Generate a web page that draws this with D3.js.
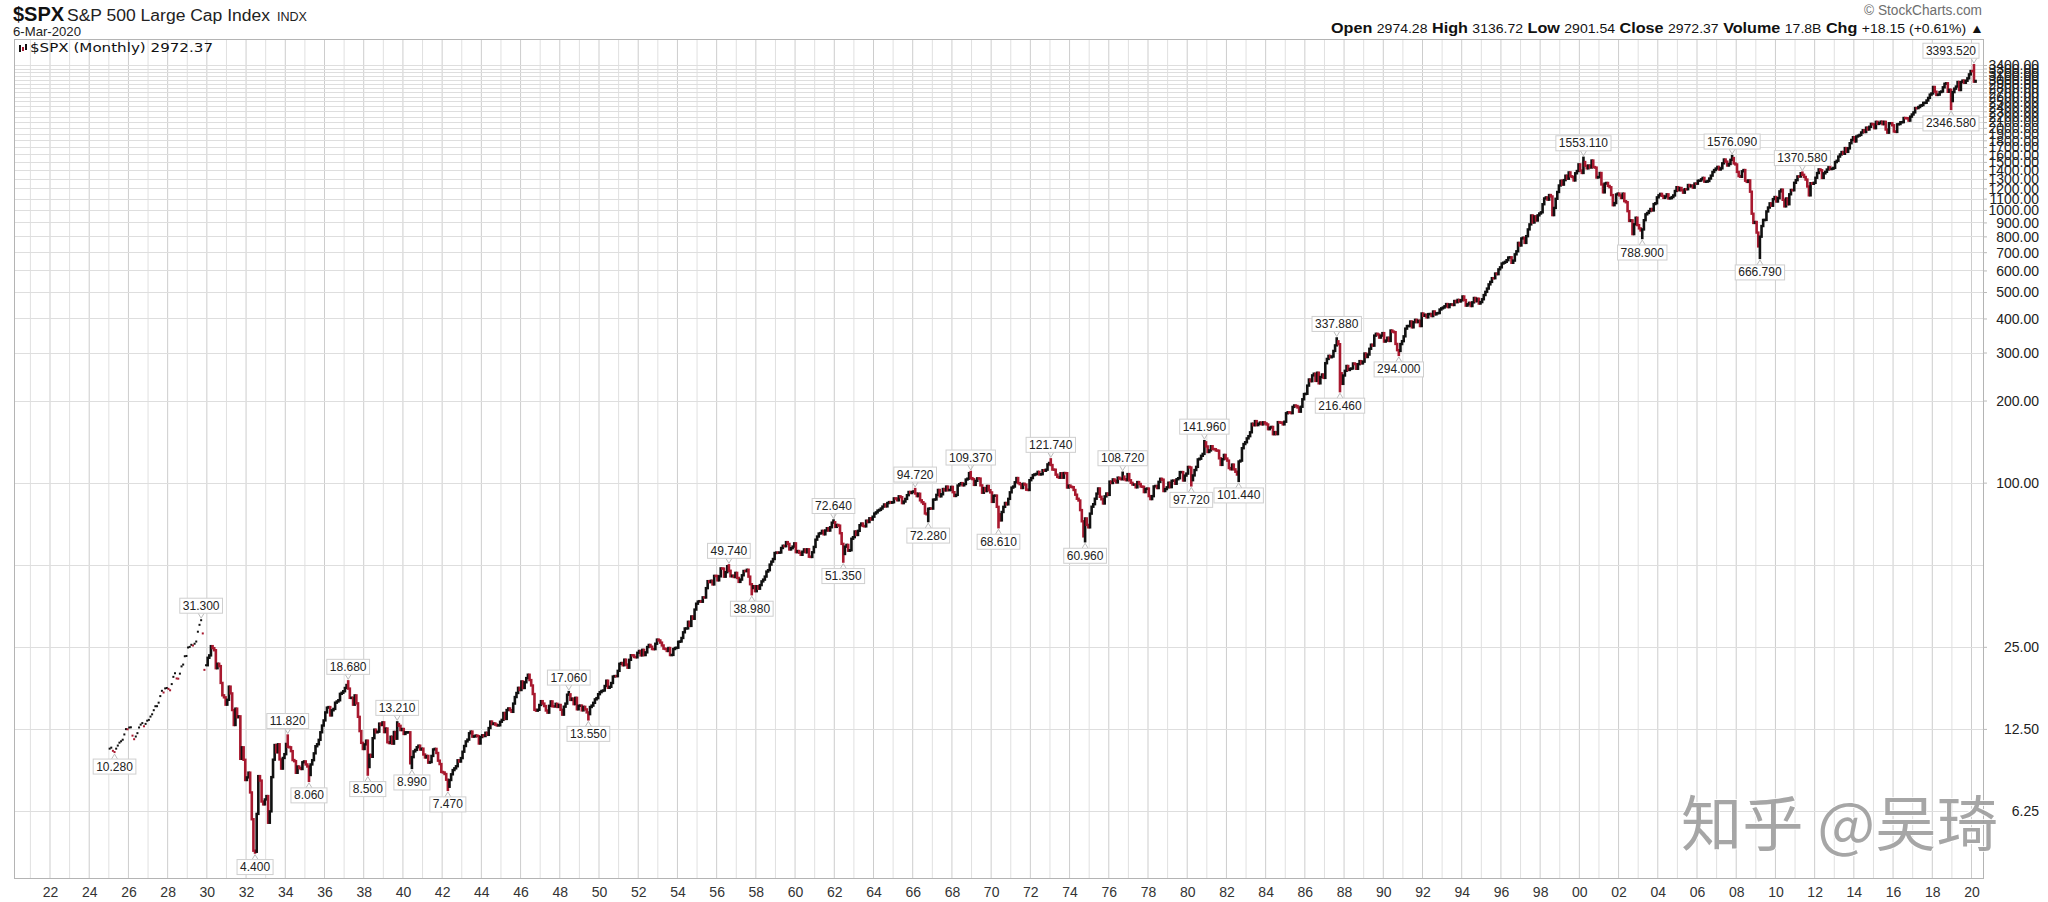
<!DOCTYPE html>
<html><head><meta charset="utf-8">
<script src="https://cdn.jsdelivr.net/npm/d3@7"></script>
<style>html,body{margin:0;padding:0;background:#fff;} svg{display:block;}</style>
</head><body>
<svg id="chart" width="2048" height="902"></svg>
<script>
// ---------------- DATA ----------------
const firstYear = 1925;          // first month: Jan 1925
const firstBarYear = 1930;       // months before are drawn as close-only dots
const monthlyClose = [
// 1925
10.58,10.67,10.39,10.28,10.58,10.86,11.13,11.26,11.41,11.93,12.48,12.46,
// 1926
12.65,12.67,11.81,11.46,11.72,12.06,12.65,12.96,13.13,12.78,13.04,13.40,
// 1927
13.49,13.87,14.14,14.64,15.14,15.14,15.60,16.49,17.24,17.00,17.60,17.66,
// 1928
17.53,17.32,18.25,19.40,20.00,19.14,19.10,19.93,21.19,21.52,23.09,23.14,
// 1929
24.86,24.99,25.43,25.28,25.66,26.14,28.40,30.10,31.30,27.99,20.58,21.40,
// 1930
22.79,23.26,25.14,24.72,24.29,20.87,21.67,21.24,18.43,16.60,16.32,15.34,
// 1931
15.98,17.86,16.87,14.66,12.92,14.83,13.80,13.90,9.71,10.70,9.63,8.12,
// 1932
8.30,8.64,7.31,5.83,4.47,4.43,6.10,8.39,8.08,6.77,6.61,6.89,
// 1933
7.09,5.66,6.23,8.32,9.64,10.91,10.26,10.98,9.66,8.94,9.78,10.10,
// 1934
11.01,10.74,10.70,10.36,9.61,9.52,8.63,9.10,8.99,8.91,9.43,9.50,
// 1935
9.26,9.10,8.47,9.26,9.60,10.17,10.80,10.98,11.40,12.15,12.86,13.43,
// 1936
14.37,14.96,15.03,14.01,14.63,14.80,15.60,15.76,15.92,16.81,16.96,17.18,
// 1937
17.66,18.11,17.57,16.25,16.26,15.34,16.59,15.51,13.84,12.27,11.11,10.55,
// 1938
10.97,11.32,9.06,10.04,9.88,11.56,12.42,12.15,12.21,13.07,12.92,13.21,
// 1939
12.17,12.54,11.17,11.09,11.70,11.04,12.18,11.51,13.02,12.83,12.38,12.49,
// 1940
11.98,12.15,12.15,12.15,9.35,9.85,10.34,10.47,10.71,10.85,10.50,10.58,
// 1941
10.07,9.82,9.95,9.40,9.45,9.95,10.51,10.56,10.20,9.56,9.29,8.69,
// 1942
8.65,8.54,8.14,7.67,8.12,8.52,8.83,8.96,9.12,9.59,9.49,9.77,
// 1943
10.31,10.82,11.25,11.42,12.05,12.22,11.71,11.74,11.82,11.76,11.05,11.67,
// 1944
11.85,11.77,12.10,11.89,12.59,13.30,13.03,13.09,12.96,12.87,12.89,13.28,
// 1945
13.49,14.30,13.60,14.66,14.86,14.65,14.44,15.48,16.36,16.93,17.68,17.36,
// 1946
18.66,17.66,18.53,19.20,19.75,18.88,18.04,16.78,14.69,14.58,14.69,15.30,
// 1947
15.80,15.48,15.16,14.60,14.34,15.19,15.77,15.13,15.11,15.45,15.05,15.30,
// 1948
14.69,14.10,15.08,15.48,16.69,16.74,15.97,16.14,15.41,16.25,14.75,15.20,
// 1949
15.22,14.62,15.06,14.74,14.37,14.16,15.04,15.22,15.58,16.04,16.21,16.76,
// 1950
17.05,17.22,17.29,17.96,18.78,17.69,17.84,18.42,19.45,19.53,19.51,20.41,
// 1951
21.66,21.80,21.40,22.43,21.52,20.96,22.40,23.28,23.26,22.94,22.88,23.77,
// 1952
24.14,23.26,24.37,23.32,23.86,24.96,25.40,25.03,24.54,24.52,25.66,26.57,
// 1953
26.38,25.90,25.29,24.62,24.54,24.14,24.75,23.32,23.35,24.54,24.76,24.81,
// 1954
26.08,26.15,26.94,28.26,29.19,29.21,30.88,29.83,32.31,31.68,34.24,35.98,
// 1955
36.63,36.76,36.58,37.96,37.91,41.03,43.52,43.18,43.67,42.34,45.51,45.48,
// 1956
43.82,45.34,48.48,48.38,45.20,46.97,49.39,47.51,45.35,45.58,45.08,46.67,
// 1957
44.72,43.26,44.11,45.74,47.43,47.37,47.91,45.22,42.42,41.06,41.72,39.99,
// 1958
41.70,40.84,42.10,43.44,44.09,45.24,47.19,47.75,50.06,51.33,52.48,55.21,
// 1959
55.42,55.41,55.44,57.59,58.68,58.47,60.51,59.60,56.88,57.52,58.28,59.89,
// 1960
55.61,56.12,55.34,54.37,55.83,56.92,55.51,56.96,53.52,53.39,55.54,58.11,
// 1961
61.78,63.44,65.06,65.31,66.56,64.64,66.76,68.07,66.73,68.62,71.32,71.55,
// 1962
68.84,69.96,69.55,65.24,59.63,54.75,58.23,59.12,56.27,56.52,62.26,63.10,
// 1963
66.20,64.29,66.57,69.80,70.80,69.37,69.13,72.50,71.70,74.01,73.23,75.02,
// 1964
77.04,77.80,78.98,79.46,80.37,81.69,83.18,81.83,84.18,84.86,84.42,84.75,
// 1965
87.56,87.43,86.16,89.11,88.42,84.12,85.25,87.17,89.96,92.42,91.61,92.43,
// 1966
92.88,91.22,89.23,91.06,86.13,84.74,83.60,77.10,76.56,80.20,80.45,80.33,
// 1967
86.61,86.78,90.20,94.01,89.08,90.64,94.75,93.64,96.71,93.90,94.00,96.47,
// 1968
92.24,89.36,90.20,97.59,98.68,99.58,97.74,98.86,102.67,103.41,108.37,103.86,
// 1969
103.01,98.13,101.51,103.69,103.46,97.71,91.83,95.51,93.12,97.24,93.81,92.06,
// 1970
85.02,89.50,89.63,81.52,76.55,72.72,78.05,81.52,84.21,83.25,87.20,92.15,
// 1971
95.88,96.75,100.31,103.95,99.63,98.70,95.58,99.03,98.34,94.23,93.99,102.09,
// 1972
103.94,106.57,107.20,107.67,109.53,107.14,107.39,111.09,110.55,111.58,116.67,118.05,
// 1973
116.03,111.68,111.52,106.97,104.95,104.26,108.22,104.25,108.43,108.29,95.96,97.55,
// 1974
96.57,96.22,93.98,90.31,87.28,86.00,79.31,72.15,63.54,73.90,69.97,68.56,
// 1975
76.98,81.59,83.36,87.30,91.15,95.19,88.75,86.88,83.87,89.04,91.24,90.19,
// 1976
100.86,99.71,102.77,101.64,100.18,104.28,103.44,102.91,105.24,102.90,102.10,107.46,
// 1977
102.03,99.82,98.42,98.44,96.12,100.48,98.85,96.77,96.53,92.34,94.83,95.10,
// 1978
89.25,87.04,89.21,96.83,97.24,95.53,100.68,103.29,102.54,93.15,94.70,96.11,
// 1979
99.93,96.28,101.59,101.76,99.08,102.91,103.81,109.32,109.32,101.82,106.16,107.94,
// 1980
114.16,113.66,102.09,106.29,111.24,114.24,121.67,122.38,125.46,127.47,140.52,135.76,
// 1981
129.55,131.27,136.00,132.81,132.59,131.21,130.92,122.79,116.18,121.89,126.35,122.55,
// 1982
120.40,113.11,111.96,116.44,111.88,109.61,107.09,119.51,120.42,133.71,138.54,140.64,
// 1983
145.30,148.06,152.96,164.42,162.39,168.11,162.56,164.40,166.07,163.55,166.40,164.93,
// 1984
163.41,157.06,159.18,160.05,150.55,153.18,150.66,166.68,166.10,166.09,163.58,167.24,
// 1985
179.63,181.18,180.66,179.83,189.55,191.85,190.92,188.63,182.08,189.82,202.17,211.28,
// 1986
211.78,226.92,238.90,235.52,247.35,250.84,236.12,252.93,231.32,243.98,249.22,242.17,
// 1987
274.08,284.20,291.70,288.36,290.10,304.00,318.66,329.80,321.83,251.79,230.30,247.08,
// 1988
257.07,267.82,258.89,261.33,262.16,273.50,272.02,261.52,271.91,278.97,273.70,277.72,
// 1989
297.47,288.86,294.87,309.64,320.52,317.98,346.08,351.45,349.15,340.36,345.99,353.40,
// 1990
329.08,331.89,339.94,330.80,361.23,358.02,356.15,322.56,306.05,304.00,322.22,330.22,
// 1991
343.93,367.07,375.22,375.35,389.83,371.16,387.81,395.43,387.86,392.46,375.22,417.09,
// 1992
408.79,412.70,403.69,414.95,415.35,408.14,424.21,414.03,417.80,418.68,431.35,435.71,
// 1993
438.78,443.38,451.67,440.19,450.19,450.53,448.13,463.56,458.93,467.83,461.79,466.45,
// 1994
481.61,467.14,445.77,450.91,456.50,444.27,458.26,475.49,462.69,472.35,453.69,459.27,
// 1995
470.42,487.39,500.71,514.71,533.40,544.75,562.06,561.88,584.41,581.50,605.37,615.93,
// 1996
636.02,640.43,645.50,654.17,669.12,670.63,639.95,651.99,687.33,705.27,757.02,740.74,
// 1997
786.16,790.82,757.12,801.34,848.28,885.14,954.29,899.47,947.28,914.62,955.40,970.43,
// 1998
980.28,1049.34,1101.75,1111.75,1090.82,1133.84,1120.67,957.28,1017.01,1098.67,1163.63,1229.23,
// 1999
1279.64,1238.33,1286.37,1335.18,1301.84,1372.71,1328.72,1320.41,1282.71,1362.93,1388.91,1469.25,
// 2000
1394.46,1366.42,1498.58,1452.43,1420.60,1454.60,1430.83,1517.68,1436.51,1429.40,1314.95,1320.28,
// 2001
1366.01,1239.94,1160.33,1249.46,1255.82,1224.38,1211.23,1133.58,1040.94,1059.78,1139.45,1148.08,
// 2002
1130.20,1106.73,1147.39,1076.92,1067.14,989.82,911.62,916.07,815.28,885.76,936.31,879.82,
// 2003
855.70,841.15,848.18,916.92,963.59,974.50,990.31,1008.01,995.97,1050.71,1058.20,1111.92,
// 2004
1131.13,1144.94,1126.21,1107.30,1120.68,1140.84,1101.72,1104.24,1114.58,1130.20,1173.82,1211.92,
// 2005
1181.27,1203.60,1180.59,1156.85,1191.50,1191.33,1234.18,1220.33,1228.81,1207.01,1249.48,1248.29,
// 2006
1280.08,1280.66,1294.83,1310.61,1270.09,1270.20,1276.66,1303.82,1335.85,1377.94,1400.63,1418.30,
// 2007
1438.24,1406.82,1420.86,1482.37,1530.62,1503.35,1455.27,1473.99,1526.75,1549.38,1481.14,1468.36,
// 2008
1378.55,1330.63,1322.70,1385.59,1400.38,1280.00,1267.38,1282.83,1166.36,968.75,896.24,903.25,
// 2009
825.88,735.09,797.87,872.81,919.14,919.32,987.48,1020.62,1057.08,1036.19,1095.63,1115.10,
// 2010
1073.87,1104.49,1169.43,1186.69,1089.41,1030.71,1101.60,1049.33,1141.20,1183.26,1180.55,1257.64,
// 2011
1286.12,1327.22,1325.83,1363.61,1345.20,1320.64,1292.28,1218.89,1131.42,1253.30,1246.96,1257.60,
// 2012
1312.41,1365.68,1408.47,1397.91,1310.33,1362.16,1379.32,1406.58,1440.67,1412.16,1416.18,1426.19,
// 2013
1498.11,1514.68,1569.19,1597.57,1630.74,1606.28,1685.73,1632.97,1681.55,1756.54,1805.81,1848.36,
// 2014
1782.59,1859.45,1872.34,1883.95,1923.57,1960.23,1930.67,2003.37,1972.29,2018.05,2067.56,2058.90,
// 2015
1994.99,2104.50,2067.89,2085.51,2107.39,2063.11,2103.84,1972.18,1920.03,2079.36,2080.41,2043.94,
// 2016
1940.24,1932.23,2059.74,2065.30,2096.95,2098.86,2173.60,2170.95,2168.27,2126.15,2198.81,2238.83,
// 2017
2278.87,2363.64,2362.72,2384.20,2411.80,2423.41,2470.30,2471.65,2519.36,2575.26,2647.58,2673.61,
// 2018
2823.81,2713.83,2640.87,2648.05,2705.27,2718.37,2816.29,2901.52,2913.98,2711.74,2760.17,2506.85,
// 2019
2704.10,2784.49,2834.40,2945.83,2752.06,2941.76,2980.38,2926.46,2976.74,3037.56,3140.98,3230.78,
// 2020
3225.52,2954.22,2972.37
];

// labelled highs/lows: [year, month, value, +1 above / -1 below]
const extremes = [
  [1925,4,10.28,-1],[1929,9,31.30,1],[1932,6,4.40,-1],[1934,2,11.82,1],[1935,3,8.06,-1],
  [1937,3,18.68,1],[1938,3,8.50,-1],[1939,9,13.21,1],[1940,6,8.99,-1],[1942,4,7.47,-1],
  [1948,6,17.06,1],[1949,6,13.55,-1],[1956,8,49.74,1],[1957,10,38.98,-1],[1961,12,72.64,1],
  [1962,6,51.35,-1],[1966,2,94.72,1],[1966,10,72.28,-1],[1968,12,109.37,1],[1970,5,68.61,-1],
  [1973,1,121.74,1],[1974,10,60.96,-1],[1976,9,108.72,1],[1980,3,97.72,-1],[1980,11,141.96,1],
  [1982,8,101.44,-1],[1987,8,337.88,1],[1987,10,216.46,-1],[1990,10,294.00,-1],[2000,3,1553.11,1],
  [2003,3,788.90,-1],[2007,10,1576.09,1],[2009,3,666.79,-1],[2011,5,1370.58,1],[2018,12,2346.58,-1],
  [2020,2,3393.52,1]
];

const yTickValues = [6.25, 12.5, 25, 100, 200, 300, 400, 500, 600, 700, 800, 900, 1000,
  1100, 1200, 1300, 1400, 1500, 1600, 1700, 1800, 1900, 2000, 2100, 2200, 2300, 2400,
  2500, 2600, 2700, 2800, 2900, 3000, 3100, 3200, 3300, 3400];
const yGridValues = [6.25, 12.5, 25, 50].concat(yTickValues.filter(v => v >= 100));
const xGridYears = d3.range(1921, 2021);
const xLabelYears = d3.range(1922, 2021, 2);

const titleSymbol = "$SPX";
const titleName = "S&P 500 Large Cap Index";
const titleExchange = "INDX";
const chartDate = "6-Mar-2020";
const legendText = "$SPX (Monthly) 2972.37";
const quoteFields = [["Open","2974.28"],["High","3136.72"],["Low","2901.54"],["Close","2972.37"],["Volume","17.8B"],["Chg","+18.15 (+0.61%) \u25B2"]];
const creditText = "\u00A9 StockCharts.com";
const watermark = "\u77E5\u4E4E @\u5434\u7426";

// ---------------- LAYOUT ----------------
const plot = {left: 14, right: 1983, top: 39, bottom: 878};
const svg = d3.select("#chart");
const FONT = "'Liberation Sans', Arial, sans-serif";
const NARROW = "'Liberation Sans Narrow', 'Arial Narrow', 'Liberation Sans', Arial, sans-serif";
const UP = "#111111", DOWN = "#a8192f";

const x = d3.scaleLinear().domain([1922, 2020]).range([50, 1971.5]);
const y = d3.scaleLog().base(2).domain([6.25, 3400]).range([811, 65]);

svg.append("rect").attr("width", 2048).attr("height", 902).attr("fill", "#fff");

// grid
const grid = svg.append("g");
grid.selectAll("line.vx").data(xGridYears).join("line")
  .attr("x1", d => x(d)).attr("x2", d => x(d))
  .attr("y1", plot.top).attr("y2", plot.bottom)
  .attr("stroke", d => d % 2 === 0 ? "#cdcdcd" : "#e0e0e0").attr("stroke-width", 1);
grid.selectAll("line.hy").data(yGridValues).join("line")
  .attr("x1", plot.left).attr("x2", plot.right)
  .attr("y1", d => Math.round(y(d)) + 0.5).attr("y2", d => Math.round(y(d)) + 0.5)
  .attr("stroke", "#dedede").attr("stroke-width", 1);

// frame
svg.append("rect").attr("x", plot.left + 0.5).attr("y", plot.top + 0.5)
  .attr("width", plot.right - plot.left).attr("height", plot.bottom - plot.top)
  .attr("fill", "none").attr("stroke", "#b4b4b4");

// right axis
const yAxis = d3.axisRight(y).tickValues(yTickValues).tickFormat(d3.format(".2f")).tickSize(4).tickPadding(0);
const yAxisG = svg.append("g").attr("transform", `translate(${plot.right},0)`).call(yAxis);
yAxisG.select(".domain").remove();
yAxisG.selectAll(".tick line").attr("stroke", "#bbb");
yAxisG.selectAll(".tick text").attr("x", 2039 - plot.right).attr("text-anchor", "end")
  .attr("font-family", FONT).attr("font-size", 14).attr("fill", "#222").attr("dy", "0.35em");

// bottom axis
const xAxis = d3.axisBottom(x).tickValues(xLabelYears).tickFormat(d => String(d % 100).padStart(2, "0")).tickSize(0).tickPadding(9);
const xAxisG = svg.append("g").attr("transform", `translate(0,${plot.bottom})`).call(xAxis);
xAxisG.select(".domain").remove();
xAxisG.selectAll(".tick text").attr("font-family", NARROW).attr("font-size", 14).attr("fill", "#333");

// data
svg.append("clipPath").attr("id", "plotclip").append("rect")
  .attr("x", plot.left).attr("y", plot.top).attr("width", plot.right - plot.left).attr("height", plot.bottom - plot.top);
const dataG = svg.append("g").attr("clip-path", "url(#plotclip)");

const extMap = new Map(extremes.map(e => [(e[0] - firstYear) * 12 + e[1] - 1, e[2]]));
const bars = monthlyClose.map((c, i) => {
  const prev = i > 0 ? monthlyClose[i - 1] : c;
  const ext = extMap.has(i) ? extMap.get(i) : c;
  return {
    i, c, prev,
    t: firstYear + (i + 0.5) / 12,
    hi: Math.max(prev, c, ext), lo: Math.min(prev, c, ext),
    dot: firstYear + Math.floor(i / 12) < firstBarYear,
    up: c >= prev
  };
});

dataG.selectAll("rect.dot").data(bars.filter(d => d.dot)).join("rect")
  .attr("x", d => x(d.t) - 1).attr("width", 2)
  .attr("y", d => y(d.c) - 1).attr("height", 2)
  .attr("fill", d => d.up ? UP : DOWN);

dataG.selectAll("rect.bar").data(bars.filter(d => !d.dot)).join("rect")
  .attr("x", d => x(d.t) - 1.3).attr("width", 2.6)
  .attr("y", d => y(d.hi) - 1.2)
  .attr("height", d => Math.max(2.6, y(d.lo) - y(d.hi) + 2.4))
  .attr("fill", d => d.up ? UP : DOWN);

// annotations
const annG = svg.append("g");
extremes.forEach(([yr, mo, v, dir]) => {
  const i = (yr - firstYear) * 12 + mo - 1;
  const cx = x(firstYear + (i + 0.5) / 12);
  const ty = y(v);
  const g = annG.append("g");
  const t = g.append("text").text(v.toFixed(3))
    .attr("font-family", FONT).attr("font-size", 12).attr("fill", "#222");
  const w = t.node().getComputedTextLength() + 6;
  const h = 15;
  let bx = cx - w / 2;
  if (bx + w > plot.right - 4) bx = plot.right - 4 - w;
  const by = dir > 0 ? ty - 7 - h : ty + 7;
  const edge = dir > 0 ? by + h : by;
  g.insert("path", "text")
    .attr("d", `M${cx - 3},${edge} L${cx},${ty + (dir > 0 ? -2 : 2)} L${cx + 3},${edge}`)
    .attr("fill", "none").attr("stroke", "#bdbdbd");
  g.insert("rect", "text").attr("x", bx).attr("y", by).attr("width", w).attr("height", h)
    .attr("fill", "#fff").attr("stroke", "#cfcfcf");
  t.attr("x", bx + 3).attr("y", by + 11.5);
});

// header
const hdr = svg.append("g").attr("font-family", FONT);
hdr.append("text").attr("x", 13).attr("y", 21).attr("font-size", 20).attr("font-weight", "bold")
  .attr("fill", "#111").text(titleSymbol);
hdr.append("text").attr("x", 67).attr("y", 21).attr("font-size", 16).attr("fill", "#222")
  .attr("textLength", 203).attr("lengthAdjust", "spacingAndGlyphs").text(titleName);
hdr.append("text").attr("x", 277).attr("y", 21).attr("font-size", 12).attr("fill", "#222")
  .attr("textLength", 30).attr("lengthAdjust", "spacingAndGlyphs").text(titleExchange);
hdr.append("text").attr("x", 13).attr("y", 36).attr("font-size", 13).attr("fill", "#222")
  .attr("textLength", 68).attr("lengthAdjust", "spacingAndGlyphs").text(chartDate);

// legend inside plot
const lg = svg.append("g");
[[19, 45, 52, UP], [22, 47, 51, DOWN], [25, 44, 50, UP]].forEach(([lx, y1, y2, col]) => {
  lg.append("rect").attr("x", lx).attr("y", y1).attr("width", 2).attr("height", y2 - y1).attr("fill", col);
});
lg.append("text").attr("x", 30).attr("y", 52).attr("font-family", "'DejaVu Sans', Verdana, sans-serif")
  .attr("font-size", 12.5).attr("fill", "#111").attr("textLength", 183).attr("lengthAdjust", "spacingAndGlyphs")
  .text(legendText);

// top-right
hdr.append("text").attr("x", 1982).attr("y", 15).attr("text-anchor", "end").attr("font-size", 14)
  .attr("fill", "#6e6e6e").attr("textLength", 118).attr("lengthAdjust", "spacingAndGlyphs").text(creditText);
const q = hdr.append("text").attr("x", 1331).attr("y", 33).attr("fill", "#111")
  .attr("textLength", 653).attr("lengthAdjust", "spacingAndGlyphs");
quoteFields.forEach(([k, v], idx) => {
  q.append("tspan").attr("font-weight", "bold").attr("font-size", 15).text((idx ? " " : "") + k + " ");
  q.append("tspan").attr("font-size", 13).text(v);
});

// watermark
svg.append("text").attr("x", 1681).attr("y", 846)
  .attr("font-family", "'Noto Sans CJK SC', sans-serif").attr("font-size", 60)
  .attr("fill", "#9c9c9c").attr("fill-opacity", 0.9)
  .attr("stroke", "#ffffff").attr("stroke-width", 1.5).attr("paint-order", "stroke")
  .attr("textLength", 317).attr("lengthAdjust", "spacingAndGlyphs")
  .text(watermark);
</script>
</body></html>
